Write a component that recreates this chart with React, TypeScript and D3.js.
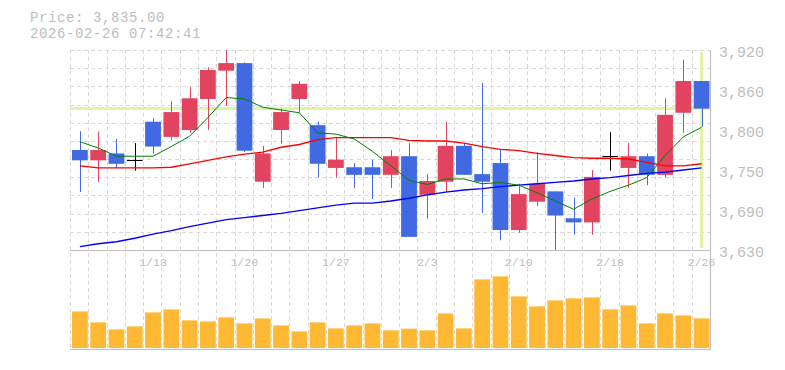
import React from "react";
import * as d3 from "d3";

const dates = [
  "1/6", "1/7", "1/8", "1/9", "1/13", "1/14", "1/15", "1/16", "1/19", "1/20",
  "1/21", "1/22", "1/23", "1/26", "1/27", "1/28", "1/29", "1/30", "2/2", "2/3",
  "2/4", "2/5", "2/6", "2/9", "2/10", "2/12", "2/13", "2/16", "2/17", "2/18",
  "2/19", "2/20", "2/24", "2/25", "2/26",
];
const opens = [
  3775, 3760, 3770, 3760, 3816, 3794, 3804, 3849, 3890, 3901,
  3729, 3804, 3849, 3811, 3749, 3750, 3750, 3739, 3766, 3710,
  3729, 3781, 3740, 3756, 3659, 3700, 3715, 3676, 3670, 3766,
  3749, 3766, 3739, 3829, 3875,
];
const highs = [
  3802, 3802, 3791, 3785, 3821, 3846, 3866, 3895, 3920, 3902,
  3781, 3835, 3875, 3816, 3794, 3756, 3761, 3775, 3785, 3740,
  3816, 3785, 3872, 3775, 3726, 3772, 3715, 3706, 3746, 3801,
  3785, 3770, 3850, 3906, 3875,
];
const lows = [
  3714, 3729, 3749, 3745, 3770, 3789, 3800, 3804, 3839, 3772,
  3720, 3784, 3829, 3735, 3735, 3720, 3704, 3720, 3649, 3675,
  3714, 3739, 3684, 3644, 3655, 3694, 3630, 3652, 3652, 3745,
  3720, 3724, 3735, 3800, 3809,
];
const closes = [
  3760, 3775, 3755, 3760, 3780, 3830, 3850, 3891, 3901, 3774,
  3770, 3830, 3871, 3755, 3761, 3739, 3739, 3766, 3649, 3730,
  3781, 3739, 3729, 3659, 3711, 3726, 3680, 3670, 3736, 3766,
  3766, 3739, 3826, 3875, 3835,
];
const volumes = [
  366, 256, 186, 216, 356, 386, 276, 266, 306, 246,
  296, 226, 166, 256, 196, 226, 246, 176, 193, 176,
  346, 196, 686, 716, 516, 416, 476, 496, 506, 386,
  426, 246, 346, 326, 296,
];
const ma5 = [
  3787, 3778, 3766, 3766, 3766, 3780, 3795, 3822, 3851, 3849,
  3837, 3833, 3829, 3800, 3798, 3791, 3773, 3752, 3731, 3725,
  3733, 3733, 3726, 3728, 3724, 3713, 3701, 3689, 3704, 3715,
  3724, 3735, 3767, 3794, 3808,
];
const ma25 = [
  3752, 3749, 3749, 3749, 3749, 3750, 3755, 3760, 3765, 3769,
  3772, 3779, 3783, 3790, 3793, 3793, 3793, 3793, 3789, 3788,
  3788, 3785, 3780, 3776, 3774, 3770, 3767, 3764, 3763, 3763,
  3762, 3757, 3752, 3752, 3755,
];
const ma75 = [
  3635, 3639, 3642, 3647, 3653, 3658, 3664, 3669, 3674, 3677,
  3680, 3683, 3687, 3691, 3695, 3698, 3698, 3701, 3705, 3710,
  3714, 3717, 3719, 3722, 3724, 3726, 3728, 3730, 3733, 3735,
  3738, 3741, 3743, 3746, 3749,
];
const xTickDates = ["1/13", "1/20", "1/27", "2/3", "2/10", "2/18", "2/26"];
const yTickValues = [3630, 3688, 3746, 3804, 3862, 3920];
const yTickLabels = ["3,630", "3,690", "3,750", "3,800", "3,860", "3,920"];
const currentPrice = 3835;
const headerPrice = "Price: 3,835.00";
const headerTime = "2026-02-26 07:42:41";

const W = 785;
const H = 370;
const L = 70;
const R = 710;
const PT = 50;
const PB = 250;
const VB = 349;

const RED = "#e2445f";
const BLUE = "#4169e1";
const VOL = "#ffb833";
const GRID = "#d9d9d9";
const BORDER = "#c0c0c0";
const TEXT = "#bdbdbd";
const MARK = "#e3f3a6";
const FONT = "'Liberation Mono', 'DejaVu Sans Mono', monospace";

export default function App() {
  const x = d3.scaleBand<string>().domain(dates).range([L, R]).padding(0);
  const step = x.step();
  const y = d3.scaleLinear().domain([3630, 3920]).range([PB, PT]);
  const yv = d3.scaleLinear().domain([0, 980]).range([VB - 1, PB]);
  const cx = (d: string) => (x(d) as number) + 2 + (step - 2.5) / 2;
  const bodyW = step - 2.5;

  const hGrid = d3.range(11).map((k) => y(3630 + ((k + 1) * 290) / 11));
  const vGrid = d3.range(dates.length).map((k) => L + k * step);

  const line = (vals: number[]) =>
    d3
      .line<number>()
      .x((_, i) => cx(dates[i]))
      .y((v) => y(v))(vals) as string;

  const last = dates[dates.length - 1];

  return (
    <svg
      width={W}
      height={H}
      style={{ position: "absolute", left: 0, top: 0, background: "#fff" }}
    >
      <text x={30} y={22} fontFamily={FONT} fontSize={14} letterSpacing={0.6} fill={TEXT}>
        {headerPrice}
      </text>
      <text x={30} y={38} fontFamily={FONT} fontSize={14} letterSpacing={0.6} fill={TEXT}>
        {headerTime}
      </text>

      {/* grid */}
      {hGrid.map((gy, i) => (
        <line key={"hg" + i} x1={L} x2={R} y1={Math.round(gy) + 0.5} y2={Math.round(gy) + 0.5} stroke={GRID} strokeDasharray="4,3" />
      ))}
      {vGrid.map((gx, i) => (
        <line key={"v" + i} x1={Math.round(gx) + 0.5} x2={Math.round(gx) + 0.5} y1={PT} y2={VB} stroke={GRID} strokeDasharray="4,3" />
      ))}

      {/* current price markers */}
      <line x1={L} x2={R} y1={y(currentPrice)} y2={y(currentPrice)} stroke={MARK} strokeWidth={3} />
      <line x1={cx(last)} x2={cx(last)} y1={PT + 2} y2={PB - 2} stroke={MARK} strokeWidth={3} />

      {/* candles */}
      {dates.map((d, i) => {
        const o = opens[i];
        const c = closes[i];
        const c0 = cx(d);
        const xl = (x(d) as number) + 2;
        if (o === c) {
          return (
            <g key={"c" + i} stroke="#000" strokeWidth={1}>
              <line x1={Math.round(c0) + 0.5} x2={Math.round(c0) + 0.5} y1={y(highs[i])} y2={y(lows[i])} />
              <line x1={xl} x2={xl + bodyW} y1={Math.round(y(o)) + 0.5} y2={Math.round(y(o)) + 0.5} />
            </g>
          );
        }
        const col = c > o ? RED : BLUE;
        const top = y(Math.max(o, c));
        const bot = y(Math.min(o, c));
        return (
          <g key={"c" + i}>
            <line x1={Math.round(c0) + 0.5} x2={Math.round(c0) + 0.5} y1={y(highs[i])} y2={y(lows[i])} stroke={col} strokeWidth={1} />
            <rect x={xl} y={top} width={bodyW} height={Math.max(1, bot - top)} fill={col} />
          </g>
        );
      })}

      {/* moving averages */}
      <path d={line(ma75)} fill="none" stroke="#0000ff" strokeWidth={1.35} />
      <path d={line(ma25)} fill="none" stroke="#ff0000" strokeWidth={1.35} />
      <path d={line(ma5)} fill="none" stroke="#008000" strokeWidth={1} />

      {/* volume */}
      {dates.map((d, i) => (
        <rect
          key={"vb" + i}
          x={(x(d) as number) + 2}
          y={yv(volumes[i])}
          width={bodyW}
          height={VB - 1 - yv(volumes[i])}
          fill={VOL}
        />
      ))}

      {/* borders */}
      <line x1={L} x2={R + 1} y1={PB + 0.5} y2={PB + 0.5} stroke={BORDER} strokeWidth={1.2} />
      <line x1={L} x2={R + 1} y1={VB + 0.5} y2={VB + 0.5} stroke={BORDER} strokeWidth={1.2} />
      <line x1={R + 0.5} x2={R + 0.5} y1={PT} y2={VB} stroke={BORDER} strokeWidth={1.2} />

      {/* x labels */}
      {xTickDates.map((d) => (
        <text key={"xt" + d} x={cx(d)} y={266} textAnchor="middle" fontFamily={FONT} fontSize={11.5} fill={TEXT}>
          {d}
        </text>
      ))}

      {/* y labels */}
      {yTickValues.map((v, i) => (
        <text key={"yt" + v} x={719} y={y(v) + 7} fontFamily={FONT} fontSize={15} fill={TEXT}>
          {yTickLabels[i]}
        </text>
      ))}
    </svg>
  );
}
